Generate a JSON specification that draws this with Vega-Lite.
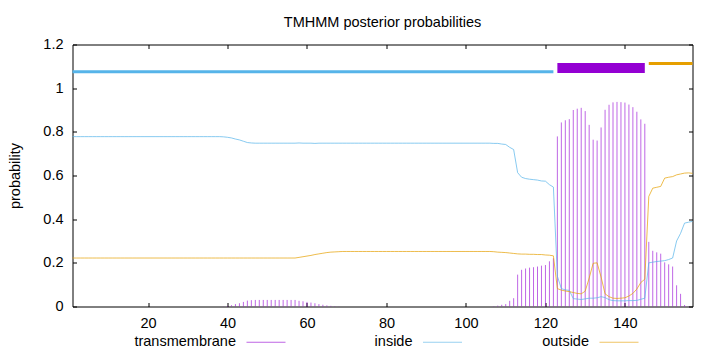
{
  "$schema": "https://vega.github.io/schema/vega-lite/v6.json",
  "width": 620,
  "height": 262,
  "autosize": {"type": "none"},
  "padding": {"left": 72.5, "top": 44.5, "right": 27.5, "bottom": 45.5},
  "background": "white",
  "title": {
    "text": "TMHMM posterior probabilities",
    "font": "Liberation Sans",
    "fontSize": 14.5,
    "fontWeight": "normal",
    "color": "#000",
    "anchor": "middle",
    "frame": "group",
    "baseline": "alphabetic",
    "offset": -4.5
  },
  "config": {
    "view": {"stroke": "#000", "strokeWidth": 1},
    "axis": {
      "domain": false,
      "grid": false,
      "ticks": true,
      "tickSize": -4,
      "tickColor": "#000",
      "tickWidth": 1,
      "labelFont": "Liberation Sans",
      "labelFontSize": 14.5,
      "labelColor": "#000",
      "labelPadding": 13.5,
      "labelFlush": false,
      "labelOverlap": false,
      "titleFont": "Liberation Sans",
      "titleFontSize": 14.5,
      "titleFontWeight": "normal",
      "titleColor": "#000"
    }
  },
  "datasets": {
    "prob": [
      {"pos":1,"tm":0,"inside":0.778,"outside":0.222},
      {"pos":2,"tm":0,"inside":0.778,"outside":0.222},
      {"pos":3,"tm":0,"inside":0.778,"outside":0.222},
      {"pos":4,"tm":0,"inside":0.778,"outside":0.222},
      {"pos":5,"tm":0,"inside":0.778,"outside":0.222},
      {"pos":6,"tm":0,"inside":0.778,"outside":0.222},
      {"pos":7,"tm":0,"inside":0.778,"outside":0.222},
      {"pos":8,"tm":0,"inside":0.778,"outside":0.222},
      {"pos":9,"tm":0,"inside":0.778,"outside":0.222},
      {"pos":10,"tm":0,"inside":0.778,"outside":0.222},
      {"pos":11,"tm":0,"inside":0.778,"outside":0.222},
      {"pos":12,"tm":0,"inside":0.778,"outside":0.222},
      {"pos":13,"tm":0,"inside":0.778,"outside":0.222},
      {"pos":14,"tm":0,"inside":0.778,"outside":0.222},
      {"pos":15,"tm":0,"inside":0.778,"outside":0.222},
      {"pos":16,"tm":0,"inside":0.778,"outside":0.222},
      {"pos":17,"tm":0,"inside":0.778,"outside":0.222},
      {"pos":18,"tm":0,"inside":0.778,"outside":0.222},
      {"pos":19,"tm":0,"inside":0.778,"outside":0.222},
      {"pos":20,"tm":0,"inside":0.778,"outside":0.222},
      {"pos":21,"tm":0,"inside":0.778,"outside":0.222},
      {"pos":22,"tm":0,"inside":0.778,"outside":0.222},
      {"pos":23,"tm":0,"inside":0.778,"outside":0.222},
      {"pos":24,"tm":0,"inside":0.778,"outside":0.222},
      {"pos":25,"tm":0,"inside":0.778,"outside":0.222},
      {"pos":26,"tm":0,"inside":0.778,"outside":0.222},
      {"pos":27,"tm":0,"inside":0.778,"outside":0.222},
      {"pos":28,"tm":0,"inside":0.778,"outside":0.222},
      {"pos":29,"tm":0,"inside":0.778,"outside":0.222},
      {"pos":30,"tm":0,"inside":0.778,"outside":0.222},
      {"pos":31,"tm":0,"inside":0.778,"outside":0.222},
      {"pos":32,"tm":0,"inside":0.778,"outside":0.222},
      {"pos":33,"tm":0,"inside":0.778,"outside":0.222},
      {"pos":34,"tm":0,"inside":0.778,"outside":0.222},
      {"pos":35,"tm":0,"inside":0.778,"outside":0.222},
      {"pos":36,"tm":0,"inside":0.778,"outside":0.222},
      {"pos":37,"tm":0,"inside":0.778,"outside":0.222},
      {"pos":38,"tm":0,"inside":0.778,"outside":0.222},
      {"pos":39,"tm":0.001,"inside":0.777,"outside":0.222},
      {"pos":40,"tm":0.003,"inside":0.775,"outside":0.222},
      {"pos":41,"tm":0.006,"inside":0.772,"outside":0.222},
      {"pos":42,"tm":0.011,"inside":0.767,"outside":0.222},
      {"pos":43,"tm":0.015,"inside":0.763,"outside":0.222},
      {"pos":44,"tm":0.021,"inside":0.757,"outside":0.222},
      {"pos":45,"tm":0.027,"inside":0.751,"outside":0.222},
      {"pos":46,"tm":0.029,"inside":0.749,"outside":0.222},
      {"pos":47,"tm":0.03,"inside":0.748,"outside":0.222},
      {"pos":48,"tm":0.03,"inside":0.748,"outside":0.222},
      {"pos":49,"tm":0.03,"inside":0.748,"outside":0.222},
      {"pos":50,"tm":0.03,"inside":0.748,"outside":0.222},
      {"pos":51,"tm":0.03,"inside":0.748,"outside":0.222},
      {"pos":52,"tm":0.03,"inside":0.748,"outside":0.222},
      {"pos":53,"tm":0.03,"inside":0.748,"outside":0.222},
      {"pos":54,"tm":0.03,"inside":0.748,"outside":0.222},
      {"pos":55,"tm":0.03,"inside":0.748,"outside":0.222},
      {"pos":56,"tm":0.03,"inside":0.748,"outside":0.222},
      {"pos":57,"tm":0.03,"inside":0.748,"outside":0.222},
      {"pos":58,"tm":0.026,"inside":0.749,"outside":0.225},
      {"pos":59,"tm":0.024,"inside":0.748,"outside":0.228},
      {"pos":60,"tm":0.021,"inside":0.748,"outside":0.231},
      {"pos":61,"tm":0.018,"inside":0.748,"outside":0.234},
      {"pos":62,"tm":0.015,"inside":0.747,"outside":0.238},
      {"pos":63,"tm":0.011,"inside":0.748,"outside":0.241},
      {"pos":64,"tm":0.008,"inside":0.748,"outside":0.244},
      {"pos":65,"tm":0.005,"inside":0.748,"outside":0.247},
      {"pos":66,"tm":0.003,"inside":0.748,"outside":0.249},
      {"pos":67,"tm":0.002,"inside":0.748,"outside":0.25},
      {"pos":68,"tm":0.001,"inside":0.748,"outside":0.251},
      {"pos":69,"tm":0,"inside":0.748,"outside":0.252},
      {"pos":70,"tm":0,"inside":0.748,"outside":0.252},
      {"pos":71,"tm":0,"inside":0.748,"outside":0.252},
      {"pos":72,"tm":0,"inside":0.748,"outside":0.252},
      {"pos":73,"tm":0,"inside":0.748,"outside":0.252},
      {"pos":74,"tm":0,"inside":0.748,"outside":0.252},
      {"pos":75,"tm":0,"inside":0.748,"outside":0.252},
      {"pos":76,"tm":0,"inside":0.748,"outside":0.252},
      {"pos":77,"tm":0,"inside":0.748,"outside":0.252},
      {"pos":78,"tm":0,"inside":0.748,"outside":0.252},
      {"pos":79,"tm":0,"inside":0.748,"outside":0.252},
      {"pos":80,"tm":0,"inside":0.748,"outside":0.252},
      {"pos":81,"tm":0,"inside":0.748,"outside":0.252},
      {"pos":82,"tm":0,"inside":0.748,"outside":0.252},
      {"pos":83,"tm":0,"inside":0.748,"outside":0.252},
      {"pos":84,"tm":0,"inside":0.748,"outside":0.252},
      {"pos":85,"tm":0,"inside":0.748,"outside":0.252},
      {"pos":86,"tm":0,"inside":0.748,"outside":0.252},
      {"pos":87,"tm":0,"inside":0.748,"outside":0.252},
      {"pos":88,"tm":0,"inside":0.748,"outside":0.252},
      {"pos":89,"tm":0,"inside":0.748,"outside":0.252},
      {"pos":90,"tm":0,"inside":0.748,"outside":0.252},
      {"pos":91,"tm":0,"inside":0.748,"outside":0.252},
      {"pos":92,"tm":0,"inside":0.748,"outside":0.252},
      {"pos":93,"tm":0,"inside":0.748,"outside":0.252},
      {"pos":94,"tm":0,"inside":0.748,"outside":0.252},
      {"pos":95,"tm":0,"inside":0.748,"outside":0.252},
      {"pos":96,"tm":0,"inside":0.748,"outside":0.252},
      {"pos":97,"tm":0,"inside":0.748,"outside":0.252},
      {"pos":98,"tm":0,"inside":0.748,"outside":0.252},
      {"pos":99,"tm":0,"inside":0.748,"outside":0.252},
      {"pos":100,"tm":0,"inside":0.748,"outside":0.252},
      {"pos":101,"tm":0,"inside":0.748,"outside":0.252},
      {"pos":102,"tm":0,"inside":0.748,"outside":0.252},
      {"pos":103,"tm":0,"inside":0.748,"outside":0.252},
      {"pos":104,"tm":0,"inside":0.748,"outside":0.252},
      {"pos":105,"tm":0,"inside":0.748,"outside":0.252},
      {"pos":106,"tm":0,"inside":0.748,"outside":0.252},
      {"pos":107,"tm":0.002,"inside":0.747,"outside":0.251},
      {"pos":108,"tm":0.004,"inside":0.747,"outside":0.249},
      {"pos":109,"tm":0.008,"inside":0.744,"outside":0.248},
      {"pos":110,"tm":0.011,"inside":0.742,"outside":0.247},
      {"pos":111,"tm":0.026,"inside":0.729,"outside":0.245},
      {"pos":112,"tm":0.038,"inside":0.719,"outside":0.243},
      {"pos":113,"tm":0.146,"inside":0.613,"outside":0.241},
      {"pos":114,"tm":0.168,"inside":0.592,"outside":0.24},
      {"pos":115,"tm":0.174,"inside":0.586,"outside":0.24},
      {"pos":116,"tm":0.178,"inside":0.583,"outside":0.239},
      {"pos":117,"tm":0.18,"inside":0.581,"outside":0.239},
      {"pos":118,"tm":0.183,"inside":0.579,"outside":0.238},
      {"pos":119,"tm":0.187,"inside":0.575,"outside":0.238},
      {"pos":120,"tm":0.19,"inside":0.574,"outside":0.236},
      {"pos":121,"tm":0.207,"inside":0.558,"outside":0.235},
      {"pos":122,"tm":0.221,"inside":0.547,"outside":0.232},
      {"pos":123,"tm":0.779,"inside":0.139,"outside":0.082},
      {"pos":124,"tm":0.843,"inside":0.082,"outside":0.075},
      {"pos":125,"tm":0.853,"inside":0.076,"outside":0.071},
      {"pos":126,"tm":0.858,"inside":0.074,"outside":0.068},
      {"pos":127,"tm":0.9,"inside":0.036,"outside":0.064},
      {"pos":128,"tm":0.906,"inside":0.034,"outside":0.06},
      {"pos":129,"tm":0.91,"inside":0.032,"outside":0.058},
      {"pos":130,"tm":0.895,"inside":0.035,"outside":0.07},
      {"pos":131,"tm":0.832,"inside":0.038,"outside":0.13},
      {"pos":132,"tm":0.764,"inside":0.038,"outside":0.198},
      {"pos":133,"tm":0.76,"inside":0.04,"outside":0.2},
      {"pos":134,"tm":0.82,"inside":0.045,"outside":0.135},
      {"pos":135,"tm":0.901,"inside":0.041,"outside":0.058},
      {"pos":136,"tm":0.924,"inside":0.031,"outside":0.045},
      {"pos":137,"tm":0.935,"inside":0.027,"outside":0.038},
      {"pos":138,"tm":0.937,"inside":0.026,"outside":0.037},
      {"pos":139,"tm":0.936,"inside":0.026,"outside":0.038},
      {"pos":140,"tm":0.934,"inside":0.026,"outside":0.04},
      {"pos":141,"tm":0.925,"inside":0.027,"outside":0.048},
      {"pos":142,"tm":0.913,"inside":0.027,"outside":0.06},
      {"pos":143,"tm":0.892,"inside":0.028,"outside":0.08},
      {"pos":144,"tm":0.857,"inside":0.033,"outside":0.11},
      {"pos":145,"tm":0.837,"inside":0.038,"outside":0.125},
      {"pos":146,"tm":0.296,"inside":0.2,"outside":0.504},
      {"pos":147,"tm":0.255,"inside":0.203,"outside":0.542},
      {"pos":148,"tm":0.248,"inside":0.206,"outside":0.546},
      {"pos":149,"tm":0.242,"inside":0.208,"outside":0.55},
      {"pos":150,"tm":0.202,"inside":0.21,"outside":0.588},
      {"pos":151,"tm":0.193,"inside":0.215,"outside":0.592},
      {"pos":152,"tm":0.183,"inside":0.222,"outside":0.595},
      {"pos":153,"tm":0.097,"inside":0.3,"outside":0.603},
      {"pos":154,"tm":0.058,"inside":0.335,"outside":0.607},
      {"pos":155,"tm":0.007,"inside":0.382,"outside":0.611},
      {"pos":156,"tm":0.002,"inside":0.386,"outside":0.612},
      {"pos":157,"tm":0,"inside":0.39,"outside":0.61}
    ],
    "topology": [
      {"segment":"inside","start":1,"end":122,"level":1.075},
      {"segment":"transmembrane","start":123,"end":145,"level":1.092},
      {"segment":"outside","start":146,"end":157,"level":1.113}
    ]
  },
  "layer": [
    {
      "data": {"name": "prob"},
      "mark": {"type": "rule", "strokeWidth": 1, "opacity": 0.6},
      "encoding": {
        "x": {"field": "pos", "type": "quantitative",
              "scale": {"domain": [1, 157], "nice": false, "zero": false},
              "axis": {"orient": "bottom", "title": null, "values": [20, 40, 60, 80, 100, 120, 140]}},
        "y": {"field": "tm", "type": "quantitative",
              "scale": {"domain": [0, 1.2], "nice": false, "zero": false},
              "axis": {"orient": "left", "title": "probability", "titleX": -57.5, "titleBaseline": "middle",
                       "titleFont": "Liberation Sans", "titleFontSize": 14.5, "titleFontWeight": "normal",
                       "format": "~g", "values": [0, 0.2, 0.4, 0.6, 0.8, 1, 1.2]}},
        "y2": {"datum": 0},
        "color": {"datum": "transmembrane", "type": "nominal",
                  "scale": {"domain": ["transmembrane", "inside", "outside"], "range": ["#9400d3", "#56b4e9", "#e69f00"]},
                  "legend": {"title": null, "orient": "none", "legendX": 173.5, "legendY": 277.5,
                             "direction": "horizontal", "columns": 3, "columnPadding": 77.5, "gridAlign": "all",
                             "symbolType": "stroke", "symbolSize": 1521, "symbolStrokeWidth": 1, "symbolOpacity": 0.6,
                             "labelAlign": "right", "labelOffset": -50, "labelFont": "Liberation Sans",
                             "labelFontSize": 14.5, "labelColor": "#000", "labelLimit": 300, "padding": 0}}
      }
    },
    {
      "data": {"name": "prob"},
      "transform": [{"fold": ["inside", "outside"], "as": ["series", "prob"]}],
      "mark": {"type": "line", "strokeWidth": 1, "opacity": 0.7},
      "encoding": {
        "x": {"field": "pos", "type": "quantitative", "scale": {"domain": [1, 157], "nice": false, "zero": false}, "axis": null},
        "y": {"field": "prob", "type": "quantitative", "scale": {"domain": [0, 1.2], "nice": false, "zero": false}, "axis": null},
        "color": {"field": "series", "type": "nominal",
                  "scale": {"domain": ["transmembrane", "inside", "outside"], "range": ["#9400d3", "#56b4e9", "#e69f00"]},
                  "legend": {"title": null, "orient": "none", "legendX": 173.5, "legendY": 277.5,
                             "direction": "horizontal", "columns": 3, "columnPadding": 77.5, "gridAlign": "all",
                             "symbolType": "stroke", "symbolSize": 1521, "symbolStrokeWidth": 1, "symbolOpacity": 0.6,
                             "labelAlign": "right", "labelOffset": -50, "labelFont": "Liberation Sans",
                             "labelFontSize": 14.5, "labelColor": "#000", "labelLimit": 300, "padding": 0}}
      }
    },
    {
      "data": {"name": "topology"},
      "transform": [{"filter": "datum.segment !== 'transmembrane'"}],
      "mark": {"type": "rule", "strokeWidth": 3, "strokeCap": "butt"},
      "encoding": {
        "x": {"field": "start", "type": "quantitative",
              "scale": {"domain": [1, 157], "nice": false, "zero": false},
              "axis": {"orient": "top", "title": null, "labels": false, "values": [20, 40, 60, 80, 100, 120, 140]}},
        "x2": {"field": "end"},
        "y": {"field": "level", "type": "quantitative",
              "scale": {"domain": [0, 1.2], "nice": false, "zero": false},
              "axis": {"orient": "right", "title": null, "labels": false, "values": [0, 0.2, 0.4, 0.6, 0.8, 1, 1.2]}},
        "stroke": {"field": "segment", "type": "nominal",
                   "scale": {"domain": ["inside", "outside"], "range": ["#56b4e9", "#e69f00"]}, "legend": null}
      }
    },
    {
      "data": {"name": "topology"},
      "transform": [{"filter": "datum.segment === 'transmembrane'"}],
      "mark": {"type": "rule", "strokeWidth": 10, "strokeCap": "butt", "color": "#9400d3"},
      "encoding": {
        "x": {"field": "start", "type": "quantitative", "scale": {"domain": [1, 157], "nice": false, "zero": false}, "axis": null},
        "x2": {"field": "end"},
        "y": {"field": "level", "type": "quantitative", "scale": {"domain": [0, 1.2], "nice": false, "zero": false}, "axis": null}
      }
    }
  ],
  "resolve": {"axis": {"x": "independent", "y": "independent"}}
}
